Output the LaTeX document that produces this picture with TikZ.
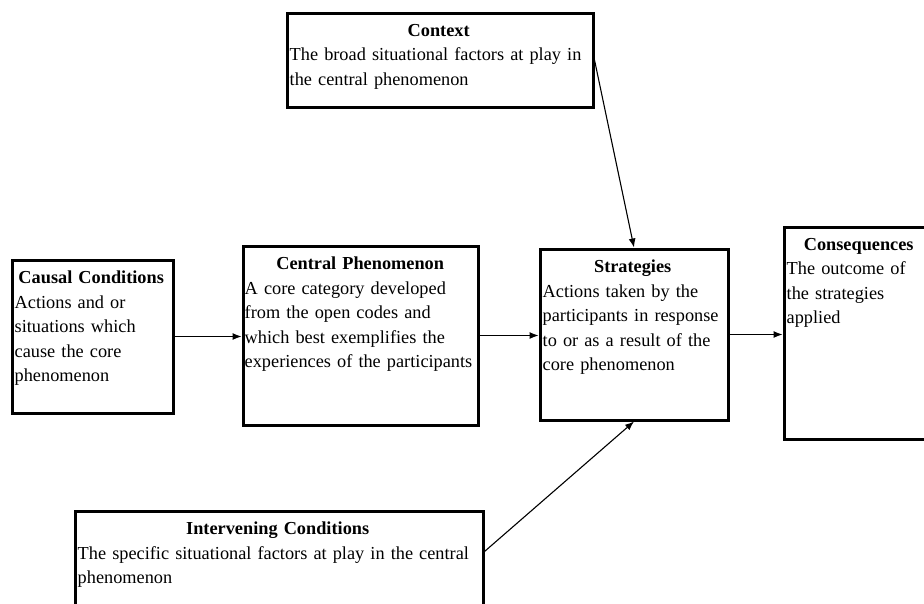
\documentclass[tikz,border=0pt]{standalone}
\usepackage{fontspec}
\setmainfont{Liberation Serif}
\usetikzlibrary{positioning}
\usetikzlibrary{arrows.meta}
\hyphenpenalty=10000
\exhyphenpenalty=10000

\begin{document}
\begin{tikzpicture}[x=1pt, y=-1pt, >={Latex[length=9pt,width=7pt]}]
      % Styles
      \tikzset{
        box/.style={draw, line width=3pt, inner sep=0pt},
        boxtext/.style={anchor=north west, align=left, inner sep=0pt,
          font=\fontsize{18.3}{24.5}\selectfont},
        link/.style={->, line width=1.1pt}
      }

      % Page frame (boxes run off the right and bottom edges)
      \path[use as bounding box, clip] (0,0) rectangle (924,603);

      % Context box
      \node[box, minimum width=306pt, minimum height=94pt] (context) at (440,60) {};
      \node[boxtext, text width=298pt] (contexttxt) at ([xshift=4pt, yshift=-12.5pt]context.north west)
        {{\centering\bfseries Context\par}
         The broad situational factors at play in\\
         the central phenomenon};

      % Causal conditions box
      \node[box, minimum width=161pt, minimum height=153pt] (causal) at (92.5,336.5) {};
      \node[boxtext, text width=153pt] (causaltxt) at ([xshift=4pt, yshift=-12.5pt]causal.north west)
        {{\centering\bfseries Causal Conditions\par}
         Actions and or\\
         situations which\\
         cause the core\\
         phenomenon};

      % Central phenomenon box
      \node[box, minimum width=235pt, minimum height=179pt] (central) at (360.5,335.5) {};
      \node[boxtext, text width=231pt] (centraltxt) at ([xshift=3pt, yshift=-12.5pt]central.north west)
        {{\centering\bfseries Central Phenomenon\par}
         A core category developed\\
         from the open codes and\\
         which best exemplifies the\\
         experiences of the participants};

      % Strategies box
      \node[box, minimum width=188pt, minimum height=171pt] (strat) at (634,334.5) {};
      \node[boxtext, text width=180pt] (strattxt) at ([xshift=4pt, yshift=-12.5pt]strat.north west)
        {{\centering\bfseries Strategies\par}
         Actions taken by the\\
         participants in response\\
         to or as a result of the\\
         core phenomenon};

      % Consequences box
      \node[box, minimum width=152pt, minimum height=212pt] (conseq) at (860,333) {};
      \node[boxtext, text width=144pt] (conseqtxt) at ([xshift=4pt, yshift=-12.5pt]conseq.north west)
        {{\centering\bfseries Consequences\par}
         The outcome of\\
         the strategies\\
         applied};

      % Intervening conditions box
      \node[box, minimum width=408pt, minimum height=129pt] (interv) at (279,575.5) {};
      \node[boxtext, text width=400pt] (intervtxt) at ([xshift=4pt, yshift=-12.5pt]interv.north west)
        {{\centering\bfseries Intervening Conditions\par}
         The specific situational factors at play in the central\\
         phenomenon};

      % Arrows
      \draw[link] (causal.east) -- (causal.east -| central.west);
      \draw[link] (central.east) -- (central.east -| strat.west);
      \draw[link] (strat.east) -- (strat.east -| conseq.west);
      \draw[link] (context.east) -- (strat.north);
      \draw[link] ([yshift=-42pt]interv.north east) -- (strat.south);

    \end{tikzpicture}
\end{document}
